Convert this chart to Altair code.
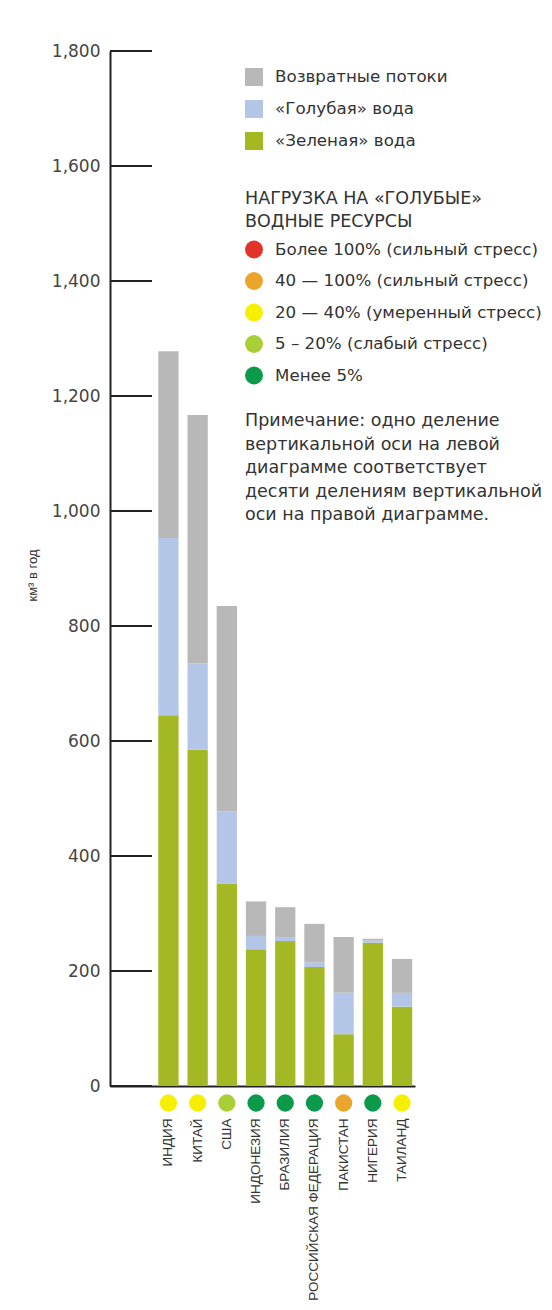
import altair as alt
import pandas as pd

countries = ["ИНДИЯ", "КИТАЙ", "США", "ИНДОНЕЗИЯ", "БРАЗИЛИЯ",
             "РОССИЙСКАЯ ФЕДЕРАЦИЯ", "ПАКИСТАН", "НИГЕРИЯ", "ТАИЛАНД"]
green_water = [645, 585, 352, 238, 252, 207, 90, 249, 138]
blue_water = [308, 150, 126, 23, 7, 8, 72, 4, 24]
return_flows = [325, 432, 357, 60, 52, 67, 97, 3, 59]

component_names = ["Возвратные потоки", "«Голубая» вода", "«Зеленая» вода"]
component_colors = ["#b8b8b8", "#b4c6e7", "#a3b823"]

stress_names = ["Более 100% (сильный стресс)", "40 — 100% (сильный стресс)",
                "20 — 40% (умеренный стресс)", "5 – 20% (слабый стресс)", "Менее 5%"]
stress_colors = ["#e2332a", "#eaa62a", "#f6f000", "#a8d036", "#0b9a4a"]
country_stress = [2, 2, 3, 4, 4, 4, 1, 4, 2]

y_ticks = [0, 200, 400, 600, 800, 1000, 1200, 1400, 1600, 1800]

note_lines = ["Примечание: одно деление", "вертикальной оси на левой",
              "диаграмме соответствует", "десяти делениям вертикальной",
              "оси на правой диаграмме."]
legend2_title = ["НАГРУЗКА НА «ГОЛУБЫЕ»", "ВОДНЫЕ РЕСУРСЫ"]

rows = []
for i, c in enumerate(countries):
    rows.append({"country": c, "component": component_names[2], "value": green_water[i], "ord": 0})
    rows.append({"country": c, "component": component_names[1], "value": blue_water[i], "ord": 1})
    rows.append({"country": c, "component": component_names[0], "value": return_flows[i], "ord": 2})
bars_df = pd.DataFrame(rows)
dots_df = pd.DataFrame({"country": countries, "stress": [stress_names[k] for k in country_stress]})
ticks_df = pd.DataFrame({"tick": y_ticks})
note_df = pd.DataFrame({"note": ["\n".join(note_lines)]})

W, H = 305, 1035
FONT = "DejaVu Sans"
TXT = "#333333"
FS = 17.5
LFS = 16.7

x_enc = alt.X("country:N", sort=countries,
              scale=alt.Scale(paddingInner=0.305, paddingOuter=0.875, align=0.945),
              axis=alt.Axis(title=None, labelAngle=270, labelFont="Liberation Sans",
                            labelFontSize=13.5, labelColor=TXT, labelPadding=32,
                            ticks=False, domainColor="#222222", domainWidth=2,
                            labelLimit=400))

bars = alt.Chart(bars_df).mark_bar().encode(
    x=x_enc,
    y=alt.Y("value:Q", stack="zero",
            scale=alt.Scale(domain=[0, 1800], nice=False),
            axis=alt.Axis(values=y_ticks, format=",.0f", title="км³ в год",
                          titleFont="Liberation Sans", titleFontSize=13,
                          titleFontWeight="normal", titleColor=TXT,
                          titleAngle=270, titleX=-78, titleY=524,
                          titleAlign="center", titleBaseline="middle",
                          labelFont=FONT, labelFontSize=17, labelColor="#444444",
                          labelPadding=10, ticks=False, grid=False,
                          domainColor="#222222", domainWidth=2)),
    color=alt.Color("component:N",
                    scale=alt.Scale(domain=component_names, range=component_colors),
                    legend=alt.Legend(orient="none", legendX=135, legendY=17,
                                      title=None, symbolType="square", symbolSize=324,
                                      symbolStrokeWidth=0, labelFont=FONT,
                                      labelFontSize=LFS, labelColor=TXT,
                                      rowPadding=14, labelOffset=12, labelLimit=500)),
    order=alt.Order("ord:Q", sort="ascending"),
)

tick_rules = alt.Chart(ticks_df).mark_rule(color="#222222", strokeWidth=2).encode(
    y=alt.Y("tick:Q"),
    x=alt.value(0),
    x2=alt.value(42),
)

dots = alt.Chart(dots_df).mark_point(filled=True, shape="circle", size=300, opacity=1).encode(
    x=alt.X("country:N", sort=countries),
    y=alt.value(H + 17),
    fill=alt.Fill("stress:N",
                  scale=alt.Scale(domain=stress_names, range=stress_colors),
                  legend=alt.Legend(orient="none", legendX=135, legendY=139,
                                    title=legend2_title, titleFont=FONT,
                                    titleFontSize=FS, titleFontWeight="normal",
                                    titleColor=TXT, titleLineHeight=23,
                                    titlePadding=10, titleLimit=500,
                                    symbolType="circle", symbolSize=324,
                                    symbolStrokeWidth=0, labelFont=FONT,
                                    labelFontSize=LFS, labelColor=TXT,
                                    rowPadding=13.5, labelOffset=12, labelLimit=500)),
)

note = alt.Chart(note_df).mark_text(
    align="left", baseline="alphabetic", font=FONT, fontSize=FS,
    color=TXT, lineBreak="\n", lineHeight=23.5
).encode(
    x=alt.value(135),
    y=alt.value(375),
    text="note:N",
)

chart = alt.layer(bars, tick_rules, dots, note).properties(
    width=W, height=H,
    autosize=alt.AutoSizeParams(type="none"),
    padding={"left": 102, "top": 43, "right": 129, "bottom": 214},
    background="white",
).configure_view(strokeWidth=0)

chart.save("out.html", embed_options={"renderer": "svg", "actions": False})
